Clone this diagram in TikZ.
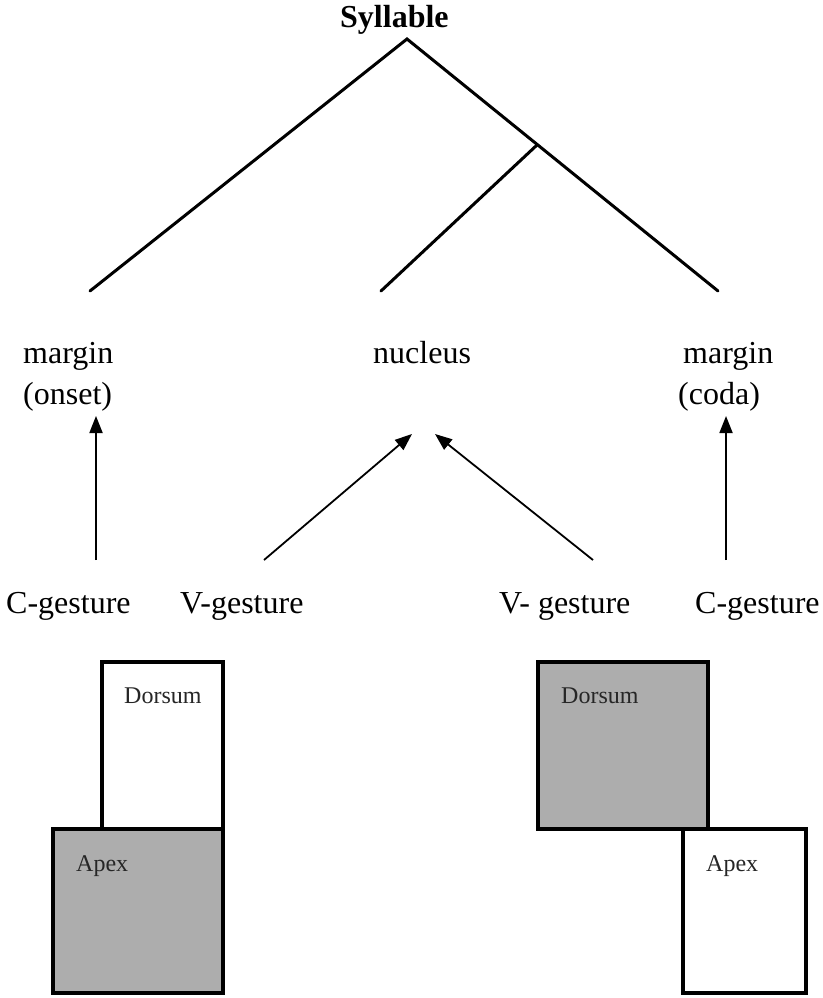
\documentclass[tikz,border=0pt]{standalone}
\usepackage{fontspec}
\setmainfont{Liberation Serif}
\usetikzlibrary{arrows.meta}
\definecolor{boxgrey}{HTML}{ADADAD}
\tikzset{
  lbl/.style={anchor=base west, inner sep=0pt, font=\fontsize{32}{36}\selectfont},
  title/.style={anchor=base west, inner sep=0pt, font=\fontsize{32}{36}\selectfont\bfseries},
  small/.style={anchor=base west, inner sep=0pt, text=black!85, font=\fontsize{24}{28}\selectfont},
  treeline/.style={line width=3pt, line cap=round},
  arr/.style={line width=1.8pt, -{Triangle[length=17pt,width=13pt]}},
  gbox/.style={draw, line width=3.2pt, fill=boxgrey},
  wbox/.style={draw, line width=3.2pt, fill=white},
}
\begin{document}
\begin{tikzpicture}[x=1pt,y=-1pt]
\useasboundingbox (0,0) rectangle (822,998);
% tree
\node[title] (syl) at (340,28) {Syllable};
\coordinate (top) at (407,39);
\coordinate (lend) at (90,291);
\coordinate (rend) at (718,291);
\coordinate (mid) at (537,145);
\coordinate (nend) at (381,291);
\draw[treeline] (lend) -- (top) -- (rend);
\draw[treeline] (mid) -- (nend);
% labels
\node[lbl] (m1) at (23,363) {margin};
\node[lbl] (on) at (23,404) {(onset)};
\node[lbl] (nuc) at (373,363) {nucleus};
\node[lbl] (m2) at (683,363) {margin};
\node[lbl] (co) at (678,404) {(coda)};
\node[lbl] (c1) at (6,613) {C-gesture};
\node[lbl] (v1) at (180,613) {V-gesture};
\node[lbl] (v2) at (499,613) {V- gesture};
\node[lbl] (c2) at (695,613) {C-gesture};
% arrows
\coordinate (a1s) at (96,560);  \coordinate (a1e) at (96,416);
\coordinate (a2s) at (264,560); \coordinate (a2e) at (412,434);
\coordinate (a3s) at (593,560); \coordinate (a3e) at (435,434);
\coordinate (a4s) at (726,560); \coordinate (a4e) at (726,416);
\draw[arr] (a1s) -- (a1e);
\draw[arr] (a2s) -- (a2e);
\draw[arr] (a3s) -- (a3e);
\draw[arr] (a4s) -- (a4e);
% left boxes
\draw[wbox] (102,662) rectangle (223,829);
\draw[gbox] (53,829) rectangle (223,993);
\node[small] (d1) at (124,703) {Dorsum};
\node[small] (ap1) at (76,871) {Apex};
% right boxes
\draw[gbox] (538,662) rectangle (708,829);
\draw[wbox] (683,829) rectangle (806,993);
\node[small] (d2) at (561,703) {Dorsum};
\node[small] (ap2) at (706,871) {Apex};
\end{tikzpicture}
\end{document}
